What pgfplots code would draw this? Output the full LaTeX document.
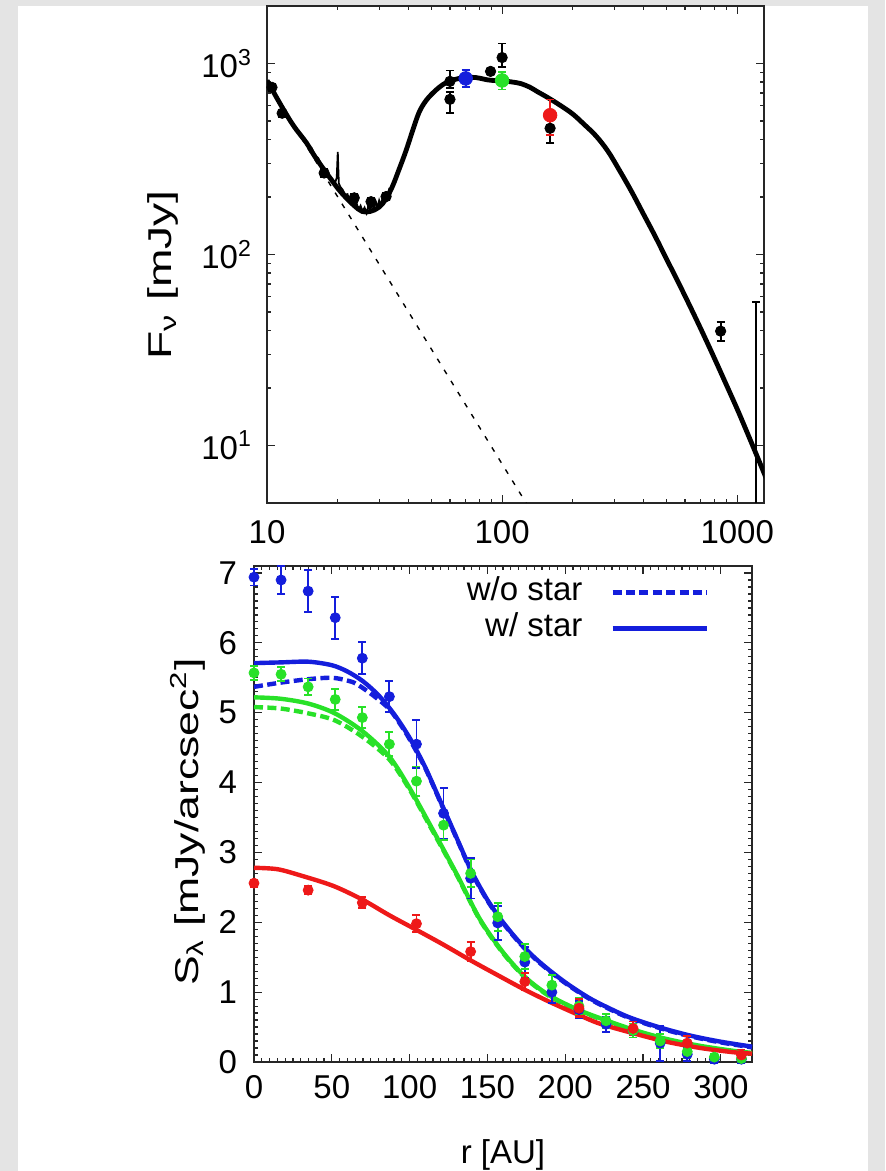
\documentclass[border=0pt]{standalone}
\usepackage{fontspec}
\setmainfont{Liberation Sans}
\usepackage{graphicx}
\usepackage{pgfplots}
\usepackage{pgfplotstable}
\pgfplotsset{compat=1.18}
\definecolor{gpblue}{RGB}{20,30,220}
\definecolor{gpgreen}{RGB}{40,225,40}
\definecolor{gpred}{RGB}{238,25,25}
\definecolor{bggrey}{RGB}{228,228,228}

% ---------- top panel data ----------
\pgfplotstableread{
x y
10 815
11.6 590
13 470
14.7 385
16 325
17.9 267
20 222
21.7 198
23.5 180
25.4 168
27.5 168
30 177
32 195
34.1 226
36.5 280
39.1 352
42 460
44.5 560
47.5 640
50.6 698
54 750
58 796
63 825
68 840
74.8 846
80 838
86 822
90 816
95 815
100 813
111 799
120 785
131 752
141 713
158 658
178 600
200 543
224 478
251 417
282 347
316 275
355 214
398 164
447 125
501 94.4
562 71.3
631 53.3
708 39.6
794 29.2
891 21.3
1000 15.5
1122 11.1
1259 7.9
1413 5.6
}\sedmodel

\pgfplotstableread{
x y
14.5 395
15 372
15.5 360
16 330
16.5 320
17 298
17.5 283
18 266
18.5 258
19 248
19.5 238
19.8 252
20.0 344
20.2 236
20.5 226
21 218
21.5 206
22 207
22.5 190
23 194
23.5 180
24 187
24.5 172
25 180
25.5 168
26 176
26.5 165
27 180
27.5 171
28 183
28.5 172
29 189
29.5 177
30 192
30.5 181
31 197
31.5 189
32 206
32.5 196
33 216
33.5 207
34 229
35 244
}\spectrum

\pgfplotstableread{
x y ep em
10.5 750 30 30
11.6 549 22 22
17.5 267 12 12
23.5 198 9 9
27.7 189 9 9
32.1 201 9 9
60 806 113 60
60 649 60 100
89.3 909 30 30
100 1074 197 120
160 458 70 75
850 39.7 4.6 4.5
1200 2 54.2 1.9
}\blackpts

% ---------- bottom panel data ----------
\pgfplotstableread{
x y
0 5.71
17 5.72
35 5.73
50 5.68
60 5.59
70 5.45
80 5.25
90 4.98
100 4.64
110 4.22
120 3.72
130 3.22
140 2.72
150 2.32
160 2.00
170 1.73
180 1.50
190 1.31
200 1.14
210 0.99
220 0.86
240 0.65
260 0.50
280 0.38
300 0.29
320 0.22
}\bluesolid

\pgfplotstableread{
x y
0 5.37
17 5.43
35 5.48
50 5.50
60 5.46
66 5.41
77 5.24
87 5.05
95 4.80
100 4.62
110 4.21
120 3.71
130 3.21
140 2.71
150 2.31
160 1.99
170 1.72
180 1.49
190 1.30
200 1.13
210 0.98
220 0.85
240 0.64
260 0.49
280 0.37
300 0.28
320 0.21
}\bluedash

\pgfplotstableread{
x y
0 5.22
17 5.20
35 5.13
52 4.99
70 4.73
87 4.37
100 3.92
113 3.40
130 2.70
145 2.05
160 1.57
175 1.20
190 0.95
207 0.76
222 0.63
244 0.46
265 0.33
287 0.23
308 0.16
320 0.13
}\greensolid

\pgfplotstableread{
x y
0 5.08
17 5.06
35 4.99
52 4.89
70 4.65
87 4.33
100 3.90
113 3.38
130 2.69
145 2.04
160 1.56
175 1.19
190 0.94
207 0.75
222 0.62
244 0.45
265 0.32
287 0.22
308 0.15
320 0.12
}\greendash

\pgfplotstableread{
x y
0 2.78
15 2.76
30 2.67
51 2.52
70 2.32
87 2.10
104.5 1.89
121.7 1.68
138.8 1.46
156 1.25
173.5 1.04
190 0.86
207 0.69
222 0.55
244 0.41
265 0.29
287 0.20
308 0.14
320 0.12
}\redsolid

\pgfplotstableread{
x y e
0 6.94 0.12
17.4 6.90 0.20
34.8 6.74 0.30
52.2 6.36 0.30
69.6 5.78 0.23
87.0 5.23 0.22
104.4 4.55 0.34
121.8 3.56 0.36
139.2 2.63 0.29
156.6 1.99 0.24
174.0 1.43 0.22
191.4 1.00 0.15
208.8 0.75 0.12
226.2 0.54 0.11
243.6 0.45 0.10
261.0 0.27 0.25
278.4 0.11 0.10
295.8 0.04 0.05
313.2 0.04 0.05
}\bluepts

\pgfplotstableread{
x y e
0 5.57 0.10
17.4 5.55 0.10
34.8 5.37 0.12
52.2 5.19 0.15
69.6 4.93 0.15
87.0 4.55 0.17
104.4 4.02 0.21
121.8 3.39 0.21
139.2 2.70 0.20
156.6 2.08 0.20
174.0 1.51 0.18
191.4 1.10 0.15
208.8 0.80 0.12
226.2 0.59 0.10
243.6 0.45 0.10
261.0 0.30 0.10
278.4 0.15 0.10
295.8 0.07 0.05
313.2 0.05 0.05
}\greenpts

\pgfplotstableread{
x y e
0 2.56 0.05
34.8 2.46 0.06
69.6 2.28 0.08
104.4 1.98 0.12
139.2 1.58 0.14
174.0 1.15 0.12
208.8 0.77 0.13
243.6 0.48 0.10
278.4 0.27 0.10
313.2 0.10 0.08
}\redpts

\newcommand{\fs}{\fontsize{16.5}{19}\selectfont}

\pgfplotsset{
  gpframe/.style={
    scale only axis,
    tick align=inside,
    major tick length=4pt,
    minor tick length=2pt,
    axis line style={line width=0.8pt, black!85},
    tick style={line width=0.6pt, black!85},
    every tick label/.append style={font=\fs},
    label style={font=\fs},
  },
  gperr/.style={
    error bars/.cd, y dir=both, y explicit,
    error bar style={line width=0.9pt},
    error mark options={rotate=90, mark size=2pt, line width=0.9pt},
  },
}

\begin{document}
\begin{tikzpicture}
\path[use as bounding box] (0pt,0pt) rectangle (442.5pt,585.5pt);
\fill[bggrey] (0pt,0pt) rectangle (442.5pt,585.5pt);
\fill[white] (9pt,0pt) rectangle (434pt,582.5pt);

% ================= top panel =================
\begin{axis}[gpframe,
  at={(133.5pt,334pt)}, anchor=south west,
  width=248.5pt, height=248.5pt,
  xmode=log, ymode=log,
  xmin=10, xmax=1300, ymin=5, ymax=2000,
  xtick={10,100,1000}, xticklabels={10,100,1000},
  ytick={10,100,1000},
  yticklabels={10\textsuperscript{1},10\textsuperscript{2},10\textsuperscript{3}},
  xticklabel style={yshift=-5pt},
  yticklabel style={xshift=-4pt},
  ylabel={\scalebox{1.4}[1]{F\textsubscript{ν} [mJy]}},
  ylabel style={at={(axis description cs:-0.209,0.459)}, anchor=center},
]
\addplot[black, line width=0.7pt, dash pattern=on 2.5pt off 4pt] coordinates {(10,800) (140,4.08)};
\addplot[black, line width=0.9pt] table[x=x,y=y] {\spectrum};
\addplot[black, line width=2.4pt, smooth, tension=0.6] table[x=x,y=y] {\sedmodel};
\addplot[only marks, black, mark=*, mark size=2.6pt, gperr]
  table[x=x,y=y,y error plus=ep,y error minus=em] {\blackpts};
\addplot[only marks, gpblue, mark=*, mark size=3.4pt, gperr]
  coordinates {(70,835) +- (0,85)};
\addplot[only marks, gpgreen, mark=*, mark size=3.4pt, gperr]
  coordinates {(100,815) +- (0,85)};
\addplot[only marks, gpred, mark=*, mark size=3.4pt, gperr]
  coordinates {(160,536) +- (0,112)};
\end{axis}

% ================= bottom panel =================
\begin{axis}[gpframe,
  at={(127pt,54.5pt)}, anchor=south west,
  width=249pt, height=248pt,
  xmin=0, xmax=320, ymin=0, ymax=7.1,
  xtick={0,50,...,300}, ytick={0,1,...,7},
  minor x tick num=9, minor y tick num=9,
  clip=false,
  /pgf/number format/assume math mode=true,
  xticklabel style={yshift=-3pt},
  yticklabel style={xshift=-5pt},
  xlabel={r [AU]},
  xlabel style={at={(axis description cs:0.5,-0.1875)}, anchor=center},
  ylabel={\scalebox{1.35}[1]{S\textsubscript{λ} [mJy/arcsec\textsuperscript{2}]}},
  ylabel style={at={(axis description cs:-0.133,0.484)}, anchor=center},
  legend cell align=right,
  legend plot pos=right,
  legend image code/.code={\draw[#1] (0pt,0pt) -- (47pt,0pt);},
  legend style={draw=none, fill=none, font=\fs,
    at={(axis description cs:0.914,0.98)}, anchor=north east,
    inner sep=0pt, row sep=2pt, column sep=14pt,
    nodes={inner sep=0pt, text height=12pt, text depth=4pt}},
]
\addlegendimage{gpblue, line width=2.2pt, dash pattern=on 4.5pt off 2.2pt}
\addlegendentry{w/o star}
\addlegendimage{gpblue, line width=2.2pt}
\addlegendentry{w/ star}

\addplot[gpblue, line width=2.2pt, dash pattern=on 4.5pt off 2.2pt, smooth] table[x=x,y=y] {\bluedash};
\addplot[gpblue, line width=2.2pt, smooth] table[x=x,y=y] {\bluesolid};
\addplot[gpgreen, line width=2.2pt, dash pattern=on 4.5pt off 2.2pt, smooth] table[x=x,y=y] {\greendash};
\addplot[gpgreen, line width=2.2pt, smooth] table[x=x,y=y] {\greensolid};
\addplot[gpred, line width=2.2pt, smooth] table[x=x,y=y] {\redsolid};

\addplot[only marks, gpblue, mark=*, mark size=2.5pt, gperr]
  table[x=x,y=y,y error=e] {\bluepts};
\addplot[only marks, gpgreen, mark=*, mark size=2.5pt, gperr]
  table[x=x,y=y,y error=e] {\greenpts};
\addplot[only marks, gpred, mark=*, mark size=2.5pt, gperr]
  table[x=x,y=y,y error=e] {\redpts};
\end{axis}
\end{tikzpicture}
\end{document}
